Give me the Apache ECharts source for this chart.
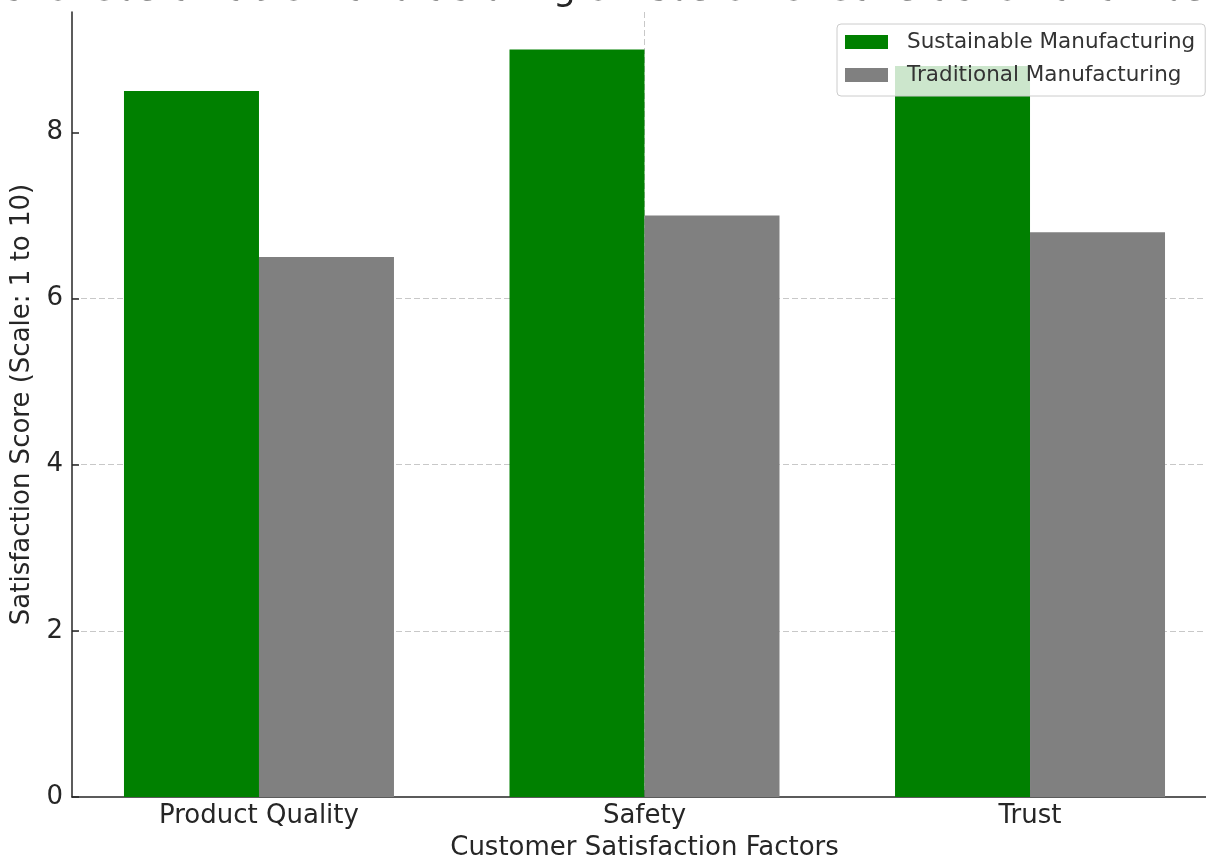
<!DOCTYPE html>
<html>
<head>
<meta charset="utf-8">
<script src="https://cdn.jsdelivr.net/npm/echarts@6/dist/echarts.min.js"></script>
<style>
html,body{margin:0;padding:0;background:#fff;}
#chart{width:1206px;height:862px;}
</style>
</head>
<body>
<div id="chart"></div>
<script>
const titleText = 'Impact of Sustainable Manufacturing on Customer Satisfaction and Trust';
const categories = ['Product Quality', 'Safety', 'Trust'];
const sustainable = [8.5, 9.0, 8.8];
const traditional = [6.5, 7.0, 6.8];
const yTicks = [0, 2, 4, 6, 8];
const seriesNames = ['Sustainable Manufacturing', 'Traditional Manufacturing'];

const FONT = 'DejaVu Sans';
const TXT = '#262626';
const catIdx = categories.map((c, i) => i);

const chart = echarts.init(document.getElementById('chart'), null, {renderer: 'canvas'});
chart.setOption({
  animation: false,
  backgroundColor: '#ffffff',
  textStyle: {fontFamily: FONT},
  title: {
    text: titleText,
    left: 560,
    textAlign: 'center',
    top: -32.5,
    textStyle: {fontFamily: FONT, fontSize: 36, fontWeight: 'normal', color: TXT}
  },
  legend: {
    orient: 'vertical',
    left: 837,
    top: 24,
    padding: [7, 10, 10, 8],
    itemGap: 11,
    itemWidth: 43,
    itemHeight: 14,
    icon: 'rect',
    backgroundColor: 'rgba(255,255,255,0.8)',
    borderColor: '#cccccc',
    borderWidth: 1,
    borderRadius: 4,
    z: 10,
    textStyle: {fontFamily: FONT, fontSize: 21.5, color: '#333333', lineHeight: 22, padding: [0, 0, 0, 14]},
    data: seriesNames
  },
  grid: {left: 72, top: 12, width: 1145, height: 785, containLabel: false, outerBoundsMode: 'none'},
  xAxis: {
    type: 'value',
    min: -0.485,
    max: 2.485,
    name: 'Customer Satisfaction Factors',
    nameLocation: 'middle',
    nameGap: 38,
    nameTextStyle: {fontFamily: FONT, fontSize: 26, color: TXT},
    axisLine: {show: true, onZero: false, lineStyle: {color: TXT, width: 1.5}},
    axisTick: {show: true, inside: true, length: 7, customValues: catIdx, lineStyle: {color: TXT, width: 1.5}},
    axisLabel: {
      customValues: catIdx,
      margin: 6,
      fontFamily: FONT, fontSize: 26, color: TXT,
      formatter: v => categories[Math.round(v)] || ''
    },
    splitLine: {show: true, showMinLine: false, showMaxLine: false, lineStyle: {color: '#c8c8c8', type: [6, 3], width: 1}}
  },
  yAxis: {
    type: 'value',
    min: 0,
    max: 9.45,
    name: 'Satisfaction Score (Scale: 1 to 10)',
    nameLocation: 'middle',
    nameGap: 37,
    nameTextStyle: {fontFamily: FONT, fontSize: 26, color: TXT},
    axisLine: {show: true, onZero: false, lineStyle: {color: TXT, width: 1.5}},
    axisTick: {show: true, inside: true, length: 7, customValues: yTicks, lineStyle: {color: TXT, width: 1.5}},
    axisLabel: {customValues: yTicks, margin: 9, fontFamily: FONT, fontSize: 26, color: TXT},
    splitLine: {show: true, showMinLine: false, showMaxLine: false, lineStyle: {color: '#c8c8c8', type: [6, 3], width: 1}}
  },
  series: [
    {
      name: seriesNames[0],
      type: 'bar',
      barWidth: 135,
      barGap: '0%',
      itemStyle: {color: '#008000'},
      data: catIdx.map(i => [i, sustainable[i]])
    },
    {
      name: seriesNames[1],
      type: 'bar',
      barWidth: 135,
      barGap: '0%',
      itemStyle: {color: '#808080'},
      data: catIdx.map(i => [i, traditional[i]])
    }
  ]
});
</script>
</body>
</html>
